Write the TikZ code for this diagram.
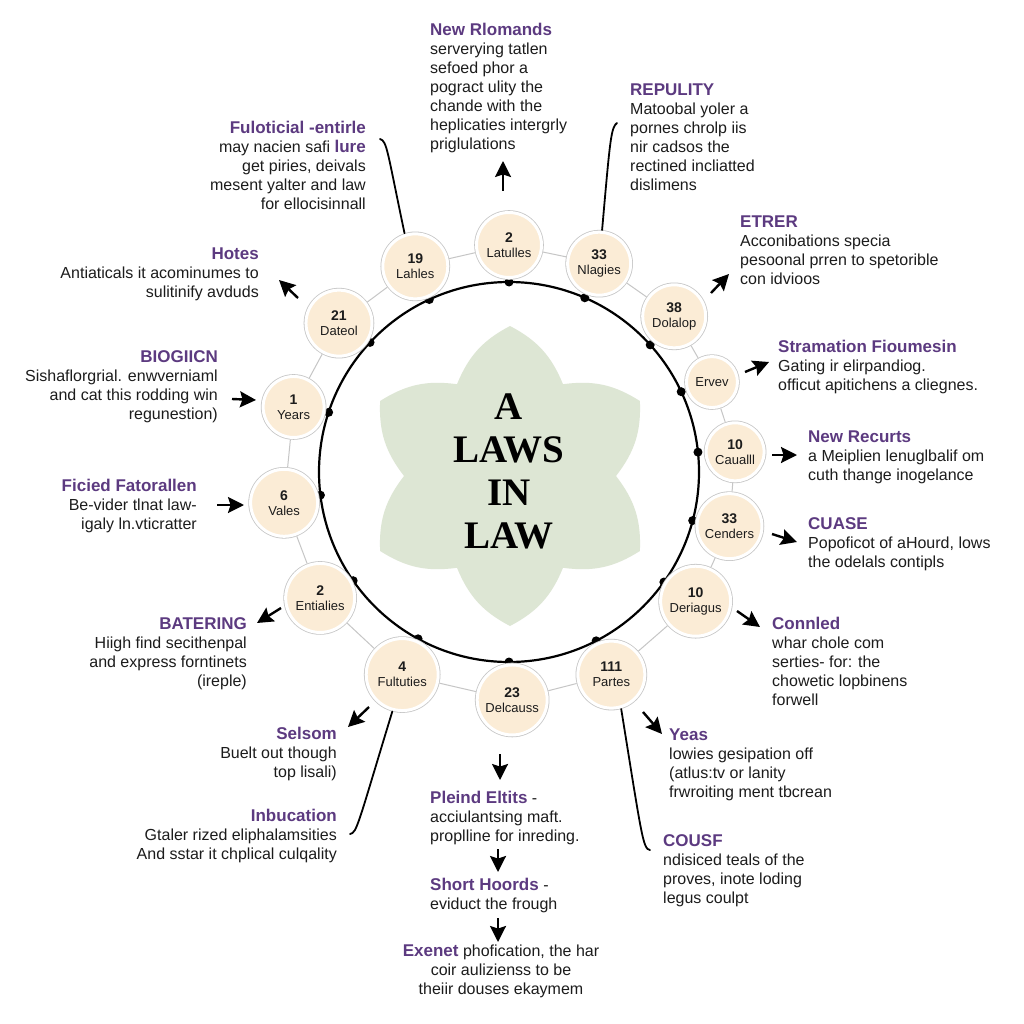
\documentclass[tikz,border=0pt]{standalone}
\usepackage{fontspec}
\setmainfont{Liberation Sans}
\newfontfamily\titleserif{Liberation Serif}
\usetikzlibrary{arrows.meta,positioning}

\definecolor{plum}{RGB}{92,58,128}
\definecolor{ink}{RGB}{28,28,28}
\definecolor{peach}{RGB}{251,236,214}
\definecolor{sage}{RGB}{221,230,212}

\newcommand{\hd}[1]{{\fontsize{17}{19}\selectfont\bfseries\color{plum}#1}}
\newcommand{\nr}[1]{{\fontsize{14}{14}\selectfont\bfseries #1}}

\begin{document}
\begin{tikzpicture}[
  x=1pt, y=-1pt,
  law/.style={circle, fill=peach, draw=white, line width=3pt,
    preaction={draw=gray!45, line width=4.6pt}, outer sep=2.3pt,
    minimum size=65pt, inner sep=0pt, align=center, text=ink,
    font=\fontsize{13}{15}\selectfont},
  txt/.style={inner sep=0pt, text=ink, font=\fontsize{16}{19}\selectfont},
  lft/.style={txt, align=left, anchor=north west},
  rgt/.style={txt, align=right, anchor=north east},
  arrow/.style={-{Stealth[length=16pt, width=16pt, inset=2.5pt]}, line width=2.4pt, black},
  bracket/.style={line width=1.8pt, black, line cap=round},
  ringline/.style={gray!45, line width=1pt}
]
  \fill[white] (0,0) rectangle (1024,1024);

  % flower behind the title
  \begin{scope}[shift={(510,476)}]
    \fill[sage] (0:106) \foreach \a in {0,60,...,300} {
      to[bend left=20] ({\a+30}:150) to[bend left=20] ({\a+60}:106)} -- cycle;
  \end{scope}
  \node[font=\titleserif\bfseries\fontsize{39}{43}\selectfont, align=center,
    inner sep=0pt] (title) at (509,471) {A\\LAWS\\IN\\LAW};

  % rim with dots and the ring of topics
  \begin{scope}[shift={(509,472)}]
    \draw[line width=2.2pt] (0,0) circle[radius=190];
    \foreach \a in {-90,-114.8,-137,-161.7,173,145.1,118.6,90,62.7,35.4,14.8,-6,-25,-42,-66.5}
      \fill (\a:190) circle[radius=4.5];

    \node[law] (latulles) at (-90:227) {\nr{2}\\Latulles};
    \node[law, minimum size=63pt] (nlagies) at (-66.6:227) {\nr{33}\\Nlagies};
    \node[law, minimum size=63pt] (dolalop) at (-43.3:227) {\nr{38}\\Dolalop};
    \node[law, minimum size=51pt] (ervev) at (-23.9:222) {Ervev};
    \node[law, minimum size=58pt] (caualll) at (-5.1:227) {\nr{10}\\Caualll};
    \node[law] (cenders) at (13.8:227) {\nr{33}\\Cenders};
    \node[law, minimum size=70pt] (deriagus) at (34.7:227) {\nr{10}\\Deriagus};
    \node[law, minimum size=67pt] (partes) at (63.2:227) {\nr{111}\\Partes};
    \node[law, minimum size=70pt] (delcauss) at (89.2:228) {\nr{23}\\Delcauss};
    \node[law, minimum size=72pt] (fultuties) at (117.8:229) {\nr{4}\\Fultuties};
    \node[law, minimum size=69pt] (entialies) at (146.3:227) {\nr{2}\\Entialies};
    \node[law, minimum size=67pt] (vales) at (172.2:227) {\nr{6}\\Vales};
    \node[law, minimum size=61pt] (years) at (-163.2:225) {\nr{1}\\Years};
    \node[law, minimum size=66pt] (dateol) at (-138.8:226) {\nr{21}\\Dateol};
    \node[law] (lahles) at (-114.5:226) {\nr{19}\\Lahles};
  \end{scope}
  \foreach \p/\q in {latulles/nlagies, nlagies/dolalop, dolalop/ervev, ervev/caualll,
      caualll/cenders, cenders/deriagus, deriagus/partes, partes/delcauss,
      delcauss/fultuties, fultuties/entialies, entialies/vales, vales/years,
      years/dateol, dateol/lahles, lahles/latulles}
    \draw[ringline] (\p) -- (\q);

  % text blocks
  \node[lft] (newrom) at (430,23) {\hd{New Rlomands}\\serverying tatlen\\sefoed phor a\\pogract ulity the\\chande with the\\heplicaties intergrly\\priglulations};
  \node[rgt] (fulot) at (366,121) {\hd{Fuloticial -entirle}\\may nacien safi \hd{lure}\\get piries, deivals\\mesent yalter and law\\for ellocisinnall};
  \node[lft] (repul) at (630,84) {\hd{REPULITY}\\Matoobal yoler a\\pornes chrolp iis\\nir cadsos the\\rectined incliatted\\dislimens};
  \node[lft] (etrer) at (740,216) {\hd{ETRER}\\Acconibations specia\\pesoonal prren to spetorible\\con idvioos};
  \node[rgt] (hotes) at (259,248) {\hd{Hotes}\\Antiaticals it acominumes to\\sulitinify avduds};
  \node[rgt] (biog) at (218,350) {\hd{BIOGIICN}\\Sishaflorgrial. enwverniaml\\and cat this rodding win\\regunestion)};
  \node[rgt] (ficied) at (197,479) {\hd{Ficied Fatorallen}\\Be-vider tlnat law-\\igaly ln.vticratter};
  \node[rgt] (batering) at (247,617) {\hd{BATERING}\\Hiigh find secithenpal\\and express forntinets\\(ireple)};
  \node[rgt] (selsom) at (337,727) {\hd{Selsom}\\Buelt out though\\top lisali)};
  \node[rgt] (inbuc) at (337,809) {\hd{Inbucation}\\Gtaler rized eliphalamsities\\And sstar it chplical culqality};
  \node[lft] (stram) at (778,340) {\hd{Stramation Fioumesin}\\Gating ir elirpandiog.\\officut apitichens a cliegnes.};
  \node[lft] (recurts) at (808,431) {\hd{New Recurts}\\a Meiplien lenuglbalif om\\cuth thange inogelance};
  \node[lft] (cuase) at (808,517) {\hd{CUASE}\\Popoficot of aHourd, lows\\the odelals contipls};
  \node[lft] (connled) at (772,617) {\hd{Connled}\\whar chole com\\serties- for: the\\chowetic lopbinens\\forwell};
  \node[lft] (yeas) at (669,729) {\hd{Yeas}\\lowies gesipation off\\(atlus:tv or lanity\\frwroiting ment tbcrean};
  \node[lft] (cousf) at (663,834) {\hd{COUSF}\\ndisiced teals of the\\proves, inote loding\\legus coulpt};
  \node[lft] (pleind) at (430,791) {\hd{Pleind Eltits} -\\acciulantsing maft.\\proplline for inreding.};
  \node[lft] (short) at (430,878) {\hd{Short Hoords} -\\eviduct the frough};
  \node[txt, align=center, anchor=north] (exenet) at (501,945) {\hd{Exenet} phofication, the har\\coir aulizienss to be\\theiir douses ekaymem};

  % arrow ends
  \coordinate (upA) at (503,191);   \coordinate (upB) at (503,161);
  \coordinate (hotA) at (298,298);  \coordinate (hotB) at (279,280);
  \coordinate (bioA) at (232,399);  \coordinate (bioB) at (256,400);
  \coordinate (ficA) at (217,505);  \coordinate (ficB) at (244,505);
  \coordinate (batA) at (281,608);  \coordinate (batB) at (257,623);
  \coordinate (selA) at (369,707);  \coordinate (selB) at (348,727);
  \coordinate (etrA) at (711,293);  \coordinate (etrB) at (729,274);
  \coordinate (strA) at (745,372);  \coordinate (strB) at (769,362);
  \coordinate (recA) at (772,455);  \coordinate (recB) at (797,455);
  \coordinate (cuaA) at (772,534);  \coordinate (cuaB) at (797,542);
  \coordinate (conA) at (737,611);  \coordinate (conB) at (760,627);
  \coordinate (yeaA) at (643,712);  \coordinate (yeaB) at (662,734);
  \coordinate (dnA) at (500,754);   \coordinate (dnB) at (500,780);
  \coordinate (plA) at (498,849);   \coordinate (plB) at (498,872);
  \coordinate (shA) at (498,918);   \coordinate (shB) at (498,942);
  \foreach \s/\e in {upA/upB, hotA/hotB, bioA/bioB, ficA/ficB, batA/batB, selA/selB,
      etrA/etrB, strA/strB, recA/recB, cuaA/cuaB, conA/conB, yeaA/yeaB,
      dnA/dnB, plA/plB, shA/shB}
    \draw[arrow] (\s) -- (\e);

  % bracket lines
  \coordinate (fulHook) at (380,139);
  \coordinate (repHook) at (617,123);
  \coordinate (inbHook) at (350,834);
  \coordinate (couHook) at (650,850);
  \draw[bracket] (lahles.108) .. controls (387,150) and (387,141) .. (fulHook);
  \draw[bracket] (nlagies.85) .. controls (610,140) and (611,127) .. (repHook);
  \draw[bracket] (fultuties.-105) .. controls (358,824) and (357,833) .. (inbHook);
  \draw[bracket] (partes.-74) .. controls (642,838) and (643,849) .. (couHook);
\end{tikzpicture}
\end{document}
